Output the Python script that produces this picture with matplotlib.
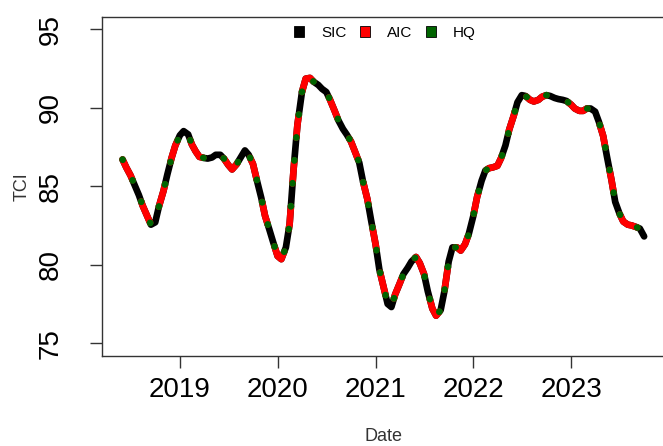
import matplotlib
matplotlib.use("Agg")
import matplotlib.pyplot as plt
import matplotlib.dates as mdates
from matplotlib.patches import Patch
import pandas as pd

# semi-monthly TCI estimates, Jun 2018 - Oct 2023
dates = pd.date_range("2018-06-01", "2023-10-01", freq="SMS")
sic = [86.7, 86.19, 85.68, 85.11, 84.43, 83.76, 83.10, 82.55, 82.7, 83.72,
       84.71, 85.73, 86.80, 87.59, 88.24, 88.51, 88.3, 87.65, 87.22, 86.87,
       86.8, 86.76, 86.83, 87.0, 87.0, 86.75, 86.35, 86.07, 86.4, 86.8,
       87.28, 87.0, 86.42, 85.42, 84.26, 83.12, 82.25, 81.46, 80.55, 80.35,
       81.1, 82.6, 86.13, 88.9, 91.0, 91.85, 91.9, 91.65, 91.45, 91.2,
       91.0, 90.5, 89.8, 89.2, 88.65, 88.3, 87.85, 87.25, 86.5, 85.3,
       84.2, 82.85, 81.3, 79.7, 78.5, 77.5, 77.3, 78.1, 78.8, 79.4,
       79.8, 80.2, 80.49, 80.1, 79.4, 78.3, 77.2, 76.75, 77.1, 78.3,
       80.2, 81.1, 81.1, 80.9, 81.3, 81.95, 83.1, 84.3, 85.35, 86.0,
       86.15, 86.2, 86.3, 86.8, 87.6, 88.6, 89.5, 90.35, 90.8, 90.75,
       90.5, 90.4, 90.5, 90.7, 90.8, 90.75, 90.62, 90.55, 90.5, 90.43,
       90.2, 89.95, 89.8, 89.8, 89.95, 89.95, 89.75, 89.1, 88.2, 86.9,
       85.4, 84.0, 83.25, 82.75, 82.55, 82.5, 82.4, 82.3, 81.8]
# all three criteria pick the same lag order, so the paths coincide
aic = list(sic)
hq = list(sic)

labels = ["SIC", "AIC", "HQ"]
colors = ["black", "red", "darkgreen"]

plt.rcParams["font.family"] = ["Liberation Sans", "DejaVu Sans"]

fig = plt.figure(figsize=(6.63, 4.46), dpi=100)
W, H = 663, 446
ax = fig.add_axes([101.7 / W, 1 - 355.7 / H, (665 - 101.7) / W, (355.7 - 16.7) / H])

lw = 4.8
ax.plot(dates, sic, color=colors[0], lw=lw, solid_capstyle="round",
        solid_joinstyle="round")
ax.plot(dates, aic, color=colors[1], lw=lw, dashes=(3.45, 3.45),
        dash_capstyle="round", dash_joinstyle="round")
ax.plot(dates, hq, color=colors[2], lw=lw, dashes=(0.05, 3.40),
        dash_capstyle="round", dash_joinstyle="round")

# R-style 4% padding around the data range
d0, d1 = mdates.date2num(dates[0]), mdates.date2num(dates[-1])
pad = 0.04 * (d1 - d0)
ax.set_xlim(d0 - pad, d1 + pad)
ax.set_ylim(75 - 0.8, 95 + 0.8)

ax.xaxis.set_major_locator(mdates.YearLocator())
ax.xaxis.set_major_formatter(mdates.DateFormatter("%Y"))
ax.set_yticks([75, 80, 85, 90, 95])

for s in ax.spines.values():
    s.set_color("#333333")
    s.set_linewidth(1.0)

ax.tick_params(axis="both", length=8.5, width=1.0, color="#333333",
               labelsize=20, labelcolor="black")
ax.tick_params(axis="x", pad=7)
ax.tick_params(axis="y", pad=19, labelrotation=90)
for t in ax.get_yticklabels():
    t.set_va("center")

ax.set_xlabel("Date", fontsize=13, color="#333333")
ax.xaxis.set_label_coords(0.5, -0.212)
ax.set_ylabel("TCI", fontsize=13, color="#333333", va="center")
ax.yaxis.set_label_coords(-0.142, 0.5)

handles = [Patch(facecolor=c, edgecolor="black", linewidth=0.6) for c in colors]
ax.legend(handles, labels, loc="upper center", bbox_to_anchor=(0.503, 1.0),
          ncol=3, frameon=False, fontsize=11, handlelength=0.65,
          handleheight=0.65, handletextpad=1.1, columnspacing=0.9,
          borderaxespad=0.2)

fig.savefig("out.png", dpi=100)
